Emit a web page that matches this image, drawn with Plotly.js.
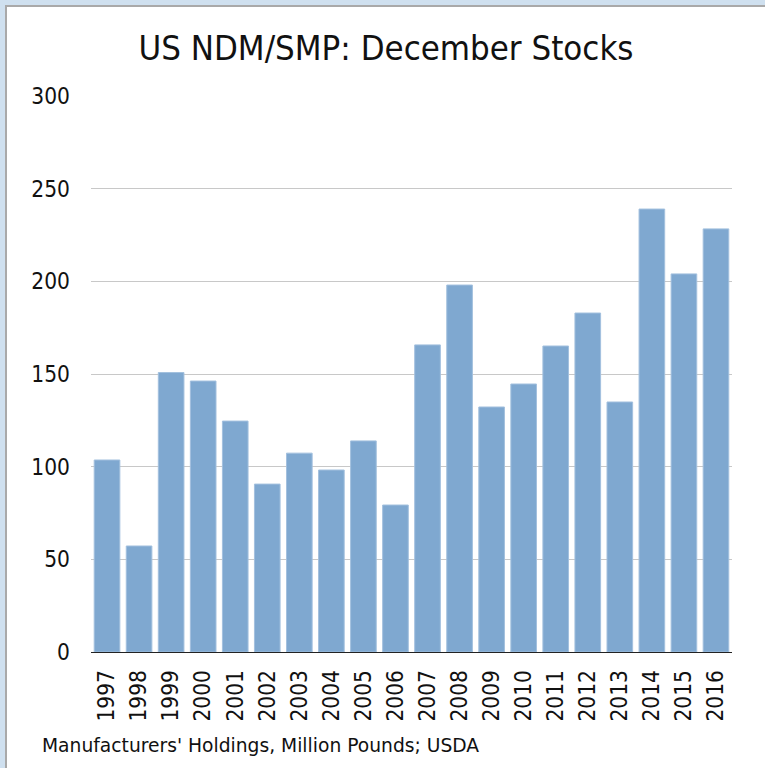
<!DOCTYPE html>
<html>
<head>
<meta charset="utf-8">
<script src="https://cdn.plot.ly/plotly-3.0.1.min.js"></script>
<style>
  html, body { margin: 0; padding: 0; width: 765px; height: 768px; overflow: hidden; }
  #bg { position: absolute; left: 0; top: 0; width: 765px; height: 768px; background: #cfe0ef; }
  #inner { position: absolute; left: 5px; top: 5px; width: 760px; height: 763px; background: #ffffff;
           border-left: 2px solid #a9a9a9; border-top: 2px solid #a9a9a9; box-sizing: border-box; }
  #plot { position: absolute; left: 0; top: 0; width: 765px; height: 768px; }
</style>
</head>
<body>
<div id="bg"></div>
<div id="inner"></div>
<div id="plot"></div>
<script>
const years = ["1997","1998","1999","2000","2001","2002","2003","2004","2005","2006",
               "2007","2008","2009","2010","2011","2012","2013","2014","2015","2016"];
const stocks = [103.6, 57.2, 150.8, 146.2, 124.6, 90.6, 107.3, 98.2, 113.9, 79.3,
                165.7, 198.0, 132.2, 144.6, 165.1, 182.9, 134.9, 239.0, 204.0, 228.3];
const yTicks = [0, 50, 100, 150, 200, 250, 300];

const FONT = "'DejaVu Sans Condensed', 'DejaVu Sans', sans-serif";
const FONT2 = "'DejaVu Sans', sans-serif";

const trace = {
  type: 'bar',
  x: years,
  y: stocks,
  marker: { color: '#7fa8d0', line: { color: '#a3c0de', width: 1 } },
  hoverinfo: 'x+y'
};

const layout = {
  width: 765, height: 768,
  margin: { l: 91, r: 33, t: 96, b: 116 },
  paper_bgcolor: 'rgba(0,0,0,0)',
  plot_bgcolor: 'rgba(0,0,0,0)',
  showlegend: false,
  bargap: 0.2,
  font: { family: FONT, color: '#111111' },
  title: {
    text: 'US NDM/SMP: December Stocks',
    font: { family: FONT, size: 34.5, color: '#111111' },
    xref: 'container', x: 386 / 765, xanchor: 'center',
    yref: 'container', y: 1 - 48 / 768, yanchor: 'middle'
  },
  xaxis: {
    type: 'category',
    tickangle: -90,
    tickfont: { family: FONT, size: 22.5, color: '#111111' },
    showline: true, linecolor: '#222222', linewidth: 1,
    ticks: '', showgrid: false,
    ticklabelstandoff: 8,
    fixedrange: true
  },
  yaxis: {
    range: [0, 300],
    tickvals: yTicks,
    ticktext: yTicks.map(String),
    tickfont: { family: FONT, size: 22.5, color: '#111111' },
    showgrid: true, gridcolor: '#c8c8c8', gridwidth: 1,
    zeroline: false, showline: false, ticks: '',
    ticklabelstandoff: 20,
    fixedrange: true
  },
  annotations: [{
    text: "Manufacturers' Holdings, Million Pounds; USDA",
    xref: 'paper', yref: 'paper',
    x: (40 - 91) / 641, xanchor: 'left',
    y: (652 - 745) / 556, yanchor: 'middle',
    showarrow: false,
    font: { family: FONT2, size: 18.7, color: '#111111' }
  }]
};

Plotly.newPlot('plot', [trace], layout, { displayModeBar: false, staticPlot: true });
</script>
</body>
</html>
